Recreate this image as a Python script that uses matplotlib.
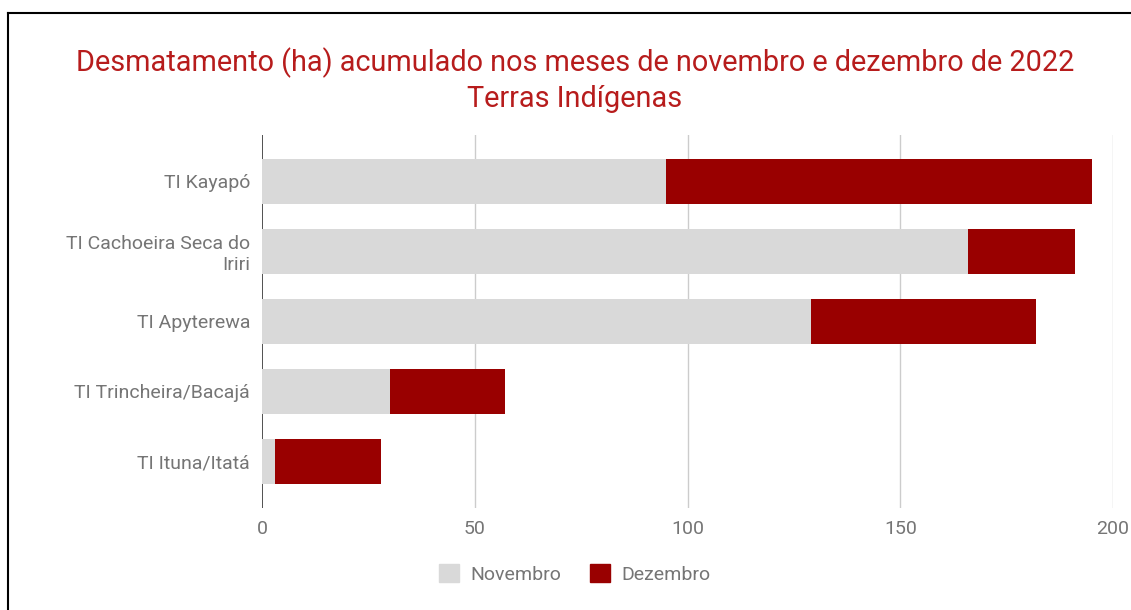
import matplotlib.pyplot as plt
import matplotlib.patches as mpatches

plt.rcParams["font.family"] = ["Roboto", "DejaVu Sans"]

TERRAS = [
    "TI Kayapó",
    "TI Cachoeira Seca do\nIriri",
    "TI Apyterewa",
    "TI Trincheira/Bacajá",
    "TI Ituna/Itatá",
]
NOVEMBRO = [95, 166, 129, 30, 3]
DEZEMBRO = [100, 25, 53, 27, 25]
X_TICKS = [0, 50, 100, 150, 200]

COR_NOV = "#d9d9d9"
COR_DEZ = "#990000"
COR_TEXTO = "#757575"

fig = plt.figure(figsize=(11.31, 6.10), dpi=100)
ax = fig.add_axes([262 / 1131, 1 - 508 / 610, (1113 - 262) / 1131, (508 - 135) / 610])

y = list(range(len(TERRAS)))
ax.barh(y, NOVEMBRO, height=0.64, color=COR_NOV, zorder=2)
ax.barh(y, DEZEMBRO, left=NOVEMBRO, height=0.64, color=COR_DEZ, zorder=2)

ax.set_xlim(0, 200)
ax.set_ylim(4.67, -0.66)
ax.set_xticks(X_TICKS)
ax.set_xticklabels([str(t) for t in X_TICKS], fontsize=14, color=COR_TEXTO)
ax.set_yticks(y)
ax.set_yticklabels(TERRAS, fontsize=14, color=COR_TEXTO, ha="right")
ax.tick_params(length=0)
ax.tick_params(axis="x", pad=9)
ax.tick_params(axis="y", pad=8.5)

for t in X_TICKS[1:]:
    ax.axvline(t, color="#cccccc", linewidth=1, zorder=0)
ax.axvline(0, color="#333333", linewidth=1.2, zorder=1)
for s in ax.spines.values():
    s.set_visible(False)

fig.text(575 / 1131, 1 - 80 / 610,
         "Desmatamento (ha) acumulado nos meses de novembro e dezembro de 2022\nTerras Indígenas",
         ha="center", va="center", fontsize=20.8, color="#b71c1c", linespacing=1.3)

handles = [mpatches.Patch(color=COR_NOV, label="Novembro"),
           mpatches.Patch(color=COR_DEZ, label="Dezembro")]
fig.legend(handles=handles, loc="center", bbox_to_anchor=(575 / 1131, 1 - 574 / 610),
           ncol=2, frameon=False, fontsize=14, labelcolor=COR_TEXTO,
           handlelength=1.0, handleheight=1.0, columnspacing=1.5, handletextpad=0.6)

# moldura da imagem original (topo e esquerda)
fig.add_artist(plt.Line2D([8 / 1131, 1], [1 - 13 / 610, 1 - 13 / 610],
                          transform=fig.transFigure, color="black", linewidth=1.5))
fig.add_artist(plt.Line2D([8 / 1131, 8 / 1131], [0, 1 - 13 / 610],
                          transform=fig.transFigure, color="black", linewidth=1.5))

fig.savefig("out.png", dpi=100)
